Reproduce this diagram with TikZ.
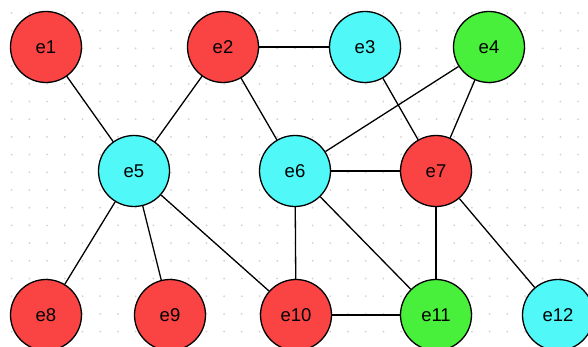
\documentclass[tikz,border=0pt]{standalone}
\usepackage{fontspec}
\setmainfont{Liberation Sans}
\definecolor{vred}{RGB}{250,68,68}
\definecolor{vcyan}{RGB}{80,248,248}
\definecolor{vgreen}{RGB}{72,240,60}
\definecolor{griddot}{RGB}{210,210,210}
\tikzset{
  vertex/.style={circle, draw=black, line width=1.3pt, minimum size=71pt, inner sep=0pt, font=\fontsize{18.5}{20}\selectfont},
  rv/.style={vertex, fill=vred},
  cv/.style={vertex, fill=vcyan},
  gv/.style={vertex, fill=vgreen},
  link/.style={line width=1.3pt, black}
}
\begin{document}
\begin{tikzpicture}[x=1pt, y=-1pt]
  \useasboundingbox (0,0) rectangle (588,347);
  \fill[white] (0,0) rectangle (588,347);
  % dotted background grid
  \foreach \i in {0,...,33} {
    \foreach \j in {0,...,19} {
      \fill[griddot] ({11.7+17.7*\i},{13+17.7*\j}) circle (1pt);
    }
  }
  % vertices
  \node[rv] (e1)  at (46,47)   {e1};
  \node[rv] (e2)  at (223,47)  {e2};
  \node[cv] (e3)  at (365,47)  {e3};
  \node[gv] (e4)  at (489,47)  {e4};
  \node[cv] (e5)  at (134,171) {e5};
  \node[cv] (e6)  at (295,171) {e6};
  \node[rv] (e7)  at (436,171) {e7};
  \node[rv] (e8)  at (46,315)  {e8};
  \node[rv] (e9)  at (170,315) {e9};
  \node[rv] (e10) at (296,315) {e10};
  \node[gv] (e11) at (436,315) {e11};
  \node[cv] (e12) at (558,315) {e12};
  % edges
  \foreach \a/\b in {e1/e5, e2/e5, e2/e3, e2/e6, e3/e7, e4/e6, e4/e7, e5/e8, e5/e9, e5/e10, e6/e7, e6/e10, e6/e11, e7/e11, e7/e12, e10/e11} {
    \draw[link] (\a) -- (\b);
  }
\end{tikzpicture}
\end{document}
